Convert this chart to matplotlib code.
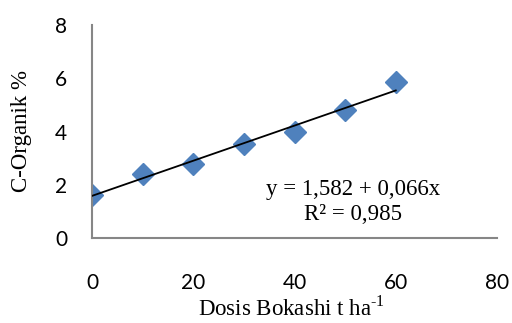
import matplotlib
matplotlib.use("Agg")
import numpy as np
from matplotlib import pyplot as plt

# data
dosis = [0, 10, 20, 30, 40, 50, 60]
c_organik = [1.62, 2.41, 2.78, 3.53, 3.98, 4.81, 5.86]
intercept = 1.582
slope = 0.066
x_ticks = [0, 20, 40, 60, 80]
y_ticks = [0, 2, 4, 6, 8]

plt.rcParams['mathtext.fontset'] = 'custom'
plt.rcParams['mathtext.rm'] = 'Liberation Serif'

fig = plt.figure(figsize=(5.12, 3.23), dpi=100)
ax = fig.add_axes([92 / 512, 1 - 238 / 323, 405 / 512, 213 / 323])

ax.plot(dosis, c_organik, linestyle='none', marker='D', markersize=11.5,
        color='#4F81BD', zorder=2)
xfit = np.array([dosis[0], dosis[-1]])
ax.plot(xfit, intercept + slope * xfit, color='black', lw=1.3, zorder=3)

ax.set_xlim(0, 80)
ax.set_ylim(0, 8)
ax.set_xticks(x_ticks)
ax.set_yticks(y_ticks)
for lab in ax.get_xticklabels() + ax.get_yticklabels():
    lab.set_fontfamily('Lato')
    lab.set_fontsize(15)
ax.tick_params(axis='x', length=0, pad=25)
ax.tick_params(axis='y', length=0, pad=18)

for side in ['top', 'right']:
    ax.spines[side].set_visible(False)
for side in ['left', 'bottom']:
    ax.spines[side].set_color('#868686')
    ax.spines[side].set_linewidth(1.5)

serif = dict(fontfamily='Liberation Serif', fontsize=16.5)
ax.set_xlabel('Dosis Bokashi t ha$^{\\mathregular{\u2010}\\mathregular{1}}$', va='baseline', **serif)
ax.set_ylabel('C-Organik %', va='center', **serif)
ax.xaxis.set_label_coords(0.5 + (291 - 294.5) / 405, -(316 - 238) / 213)
ax.yaxis.set_label_coords(-(92 - 22) / 405, 0.5)

fig.text(353 / 512, 1 - 190 / 323, 'y = 1,582 + 0,066x', ha='center', va='center', **serif)
fig.text(353 / 512, 1 - 214 / 323, 'R² = 0,985', ha='center', va='center', **serif)

fig.savefig('out.png', dpi=100)
